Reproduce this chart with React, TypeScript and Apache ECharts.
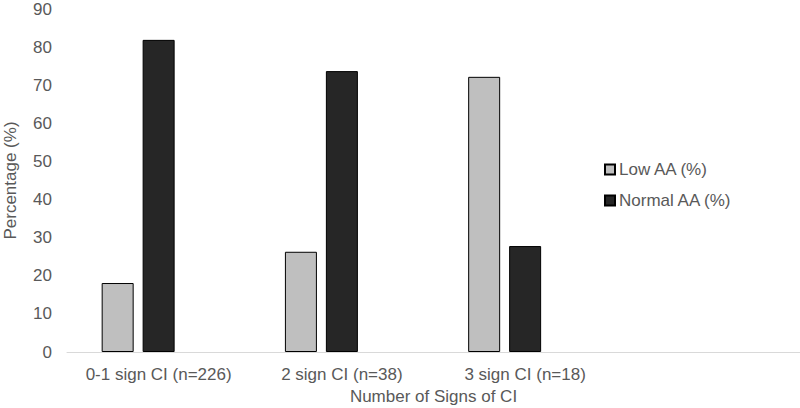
import React, { useEffect, useRef } from "react";
import * as echarts from "echarts";

const categories = ["0-1 sign CI (n=226)", "2 sign CI (n=38)", "3 sign CI (n=18)", ""];
const lowAA = [18.1, 26.3, 72.2, null];
const normalAA = [81.9, 73.7, 27.8, null];
const emptySeries = [null, null, null, null];
const yTicks = { min: 0, max: 90, interval: 10 };

const FONT = "'Liberation Sans', Arial, sans-serif";
const TEXT = "#595959";
const FS = 17;

export default function App() {
  const ref = useRef<HTMLDivElement>(null);
  useEffect(() => {
    document.body.style.margin = "0";
    const chart = echarts.init(ref.current!, null, { renderer: "svg" });
    chart.setOption({
      animation: false,
      textStyle: { fontFamily: FONT },
      grid: {
        left: 67,
        right: 0,
        top: 9,
        bottom: 56,
        containLabel: false,
        outerBoundsMode: "none",
      },
      legend: {
        data: ["Low AA (%)", "Normal AA (%)"],
        orient: "vertical",
        left: 599,
        top: 156,
        itemWidth: 10,
        itemHeight: 10,
        itemGap: 14,
        icon: "rect",
        textStyle: { color: TEXT, fontSize: FS, fontFamily: FONT, padding: [0, 0, 0, -1] },
      },
      xAxis: {
        type: "category",
        data: categories,
        boundaryGap: true,
        axisLine: { show: true, lineStyle: { color: "#d9d9d9", width: 1 } },
        axisTick: { show: false },
        axisLabel: { color: TEXT, fontSize: FS, margin: 14, fontFamily: FONT, interval: 0 },
        name: "Number of Signs of CI",
        nameLocation: "middle",
        nameGap: 36,
        nameTextStyle: { color: TEXT, fontSize: FS, fontFamily: FONT },
      },
      yAxis: {
        type: "value",
        min: yTicks.min,
        max: yTicks.max,
        interval: yTicks.interval,
        axisLine: { show: false },
        axisTick: { show: false },
        splitLine: { show: false },
        axisLabel: { color: TEXT, fontSize: FS, margin: 15, fontFamily: FONT },
        name: "Percentage (%)",
        nameLocation: "middle",
        nameGap: 48,
        nameTextStyle: { color: TEXT, fontSize: FS, fontFamily: FONT },
      },
      series: [
        {
          name: "Low AA (%)",
          type: "bar",
          data: lowAA,
          barWidth: 32,
          barGap: "28%",
          itemStyle: { color: "#bfbfbf", borderColor: "#000", borderWidth: 1 },
        },
        {
          name: "Normal AA (%)",
          type: "bar",
          data: normalAA,
          barWidth: 32,
          barGap: "28%",
          itemStyle: { color: "#262626", borderColor: "#000", borderWidth: 1 },
        },
        {
          name: "blank",
          type: "bar",
          data: emptySeries,
          barWidth: 32,
          barGap: "28%",
          itemStyle: { color: "#ffffff" },
        },
      ],
    });
    return () => chart.dispose();
  }, []);
  return (
    <div
      ref={ref}
      style={{ position: "fixed", left: 0, top: 0, width: 800, height: 408, background: "#fff" }}
    />
  );
}
